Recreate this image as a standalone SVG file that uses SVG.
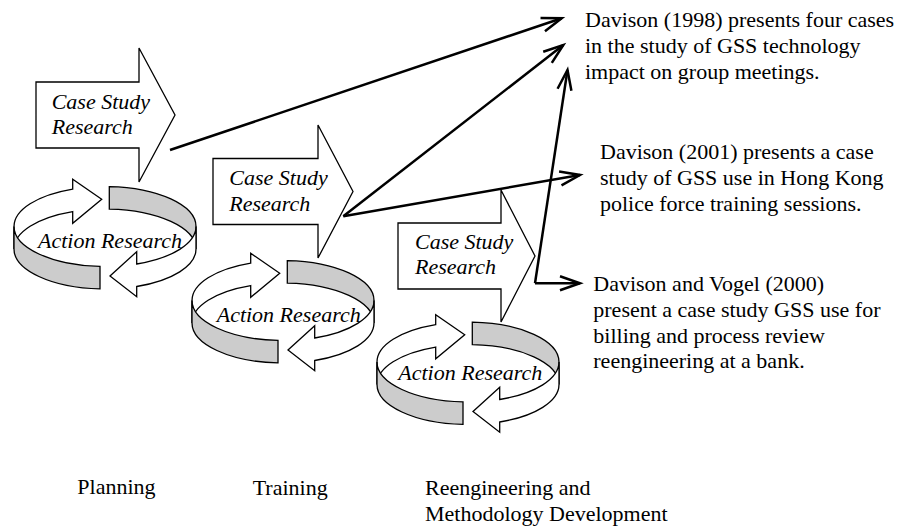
<svg xmlns="http://www.w3.org/2000/svg" xmlns:xlink="http://www.w3.org/1999/xlink" width="898" height="527" viewBox="0 0 898 527">
  <style>
    .shape { fill: #ffffff; stroke: #000000; stroke-width: 1.3; stroke-linejoin: miter; }
    .band { fill: #cccccc; stroke: #000000; stroke-width: 1.3; }
    .lbl { font-family: "Liberation Serif", "Times New Roman", serif; font-size: 22px; fill: #000000; }
    .it { font-style: italic; }
    .conn { fill: none; stroke: #000000; stroke-width: 2.5; }
  </style>
  <defs>
    <marker id="head" markerUnits="userSpaceOnUse" markerWidth="24" markerHeight="20" viewBox="-22 -10 24 20" refX="0" refY="0" orient="auto" overflow="visible">
      <path d="M-20,-7 L0,0 L-20,7" fill="none" stroke="#000000" stroke-width="2.5"/>
    </marker>
    <g id="ring">
      <path class="shape" d="M14,226.5 A91,40 0 0 1 72.7,189.1 L72.7,179.3 L101.7,199.3 L72.7,223.3 L72.7,211.6 A91,40 0 0 0 14,249 Z"/>
      <path class="band" d="M109.3,186.54 A91,40 0 0 1 196,226.5 L196,249 A91,40 0 0 0 109.3,209.04 Z"/>
      <path class="band" d="M14,226.5 A91,40 0 0 0 100,266.44 L100,288.94 A91,40 0 0 1 14,249 Z"/>
      <path class="shape" d="M196,226.5 A91,40 0 0 1 136.7,263.99 L136.7,251.7 L110,276 L136.7,296.7 L136.7,286.49 A91,40 0 0 0 196,249 Z"/>
    </g>
  </defs>

  <!-- Planning stage -->
  <g id="case-study-1">
    <polygon class="shape" points="36,82 139,82 139,48 175,115 139,182 139,148 36,148"/>
    <text class="lbl it" x="51.7" y="109">Case Study</text>
    <text class="lbl it" x="51.7" y="134">Research</text>
  </g>
  <g id="action-research-1">
    <use xlink:href="#ring" href="#ring"/>
    <text class="lbl it" x="38" y="248.3">Action Research</text>
  </g>

  <!-- Training stage -->
  <g id="case-study-2">
    <polygon class="shape" points="213,158.5 318,158.5 318,125 353,191.5 318,258 318,224.5 213,224.5"/>
    <text class="lbl it" x="229.3" y="185">Case Study</text>
    <text class="lbl it" x="229.3" y="210.5">Research</text>
  </g>
  <g id="action-research-2">
    <use xlink:href="#ring" href="#ring" transform="translate(178,74)"/>
    <text class="lbl it" x="216.7" y="321.7">Action Research</text>
  </g>

  <!-- Reengineering stage -->
  <g id="case-study-3">
    <polygon class="shape" points="398,223 501,223 501,190 535,256 501,322 501,289 398,289"/>
    <text class="lbl it" x="415" y="249.3">Case Study</text>
    <text class="lbl it" x="415" y="274.3">Research</text>
  </g>
  <g id="action-research-3">
    <use xlink:href="#ring" href="#ring" transform="translate(363,135.5)"/>
    <text class="lbl it" x="398.3" y="380">Action Research</text>
  </g>

  <!-- Connectors -->
  <g id="connectors">
    <line class="conn" x1="170" y1="150" x2="561.7" y2="18.3" marker-end="url(#head)"/>
    <line class="conn" x1="343.3" y1="216.3" x2="563.3" y2="45" marker-end="url(#head)"/>
    <line class="conn" x1="343.3" y1="216.3" x2="580" y2="175" marker-end="url(#head)"/>
    <line class="conn" x1="535" y1="283.3" x2="567.5" y2="70" marker-end="url(#head)"/>
    <line class="conn" x1="535" y1="283.3" x2="580" y2="283.3" marker-end="url(#head)"/>
  </g>

  <!-- Reference texts -->
  <g id="ref-davison-1998">
    <text class="lbl" x="585" y="27">Davison (1998) presents four cases</text>
    <text class="lbl" x="585" y="53">in the study of GSS technology</text>
    <text class="lbl" x="585" y="79">impact on group meetings.</text>
  </g>
  <g id="ref-davison-2001">
    <text class="lbl" x="600" y="159">Davison (2001) presents a case</text>
    <text class="lbl" x="600" y="185">study of GSS use in Hong Kong</text>
    <text class="lbl" x="600" y="211">police force training sessions.</text>
  </g>
  <g id="ref-davison-vogel-2000">
    <text class="lbl" x="593.3" y="291">Davison and Vogel (2000)</text>
    <text class="lbl" x="593.3" y="317">present a case study GSS use for</text>
    <text class="lbl" x="593.3" y="342.5">billing and process review</text>
    <text class="lbl" x="593.3" y="368">reengineering at a bank.</text>
  </g>

  <!-- Stage labels -->
  <g id="stage-labels">
    <text class="lbl" x="77.3" y="494">Planning</text>
    <text class="lbl" x="252.7" y="495">Training</text>
    <text class="lbl" x="425" y="495">Reengineering and</text>
    <text class="lbl" x="425" y="521">Methodology Development</text>
  </g>
</svg>
